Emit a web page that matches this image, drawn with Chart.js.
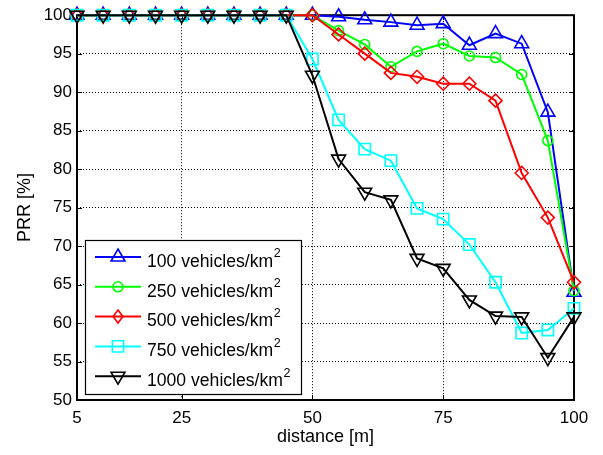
<!DOCTYPE html>
<html>
<head>
<meta charset="utf-8">
<script src="https://cdn.jsdelivr.net/npm/chart.js@4/dist/chart.umd.min.js"></script>
<style>
    html, body { margin: 0; padding: 0; background: #fff; }
    canvas { display: block; }
</style>
</head>
<body>
<canvas id="c" width="603" height="455"></canvas>
<script>
'use strict';

// distance [m]
var distances = [5, 10, 15, 20, 25, 30, 35, 40, 45, 50, 55, 60, 65, 70, 75, 80, 85, 90, 95, 100];
var xTickValues = [5, 25, 50, 75, 100];

// PRR [%] per vehicle density
var prr100 = [100, 100, 100, 100, 100, 100, 100, 100, 100, 100, 99.8, 99.4, 99.1, 98.7, 98.9, 96.1, 97.6, 96.3, 87.4, 64.0];
var prr250 = [100, 100, 100, 100, 100, 100, 100, 100, 100, 100, 98.0, 96.2, 93.3, 95.3, 96.3, 94.7, 94.5, 92.3, 83.7, 64.2];
var prr500 = [100, 100, 100, 100, 100, 100, 100, 100, 100, 100, 97.5, 95.0, 92.5, 92.0, 91.1, 91.1, 88.9, 79.5, 73.7, 65.3];
var prr750 = [100, 100, 100, 100, 100, 100, 100, 100, 100, 94.3, 86.4, 82.6, 81.1, 74.9, 73.5, 70.2, 65.3, 58.7, 59.1, 61.9];
var prr1000 = [100, 100, 100, 100, 100, 100, 100, 100, 100, 92.2, 81.3, 77.0, 76.0, 68.4, 67.1, 63.0, 60.9, 60.8, 55.5, 60.8];

var seriesLabels = ['100 vehicles/km', '250 vehicles/km', '500 vehicles/km', '750 vehicles/km', '1000 vehicles/km'];
var seriesData = [prr100, prr250, prr500, prr750, prr1000];
var seriesColors = ['#0000ff', '#00ff00', '#ff0000', '#00ffff', '#000000'];
var seriesMarkers = [
    { style: 'triangle', radius: 8, rotation: 0 },
    { style: 'circle', radius: 5, rotation: 0 },
    { style: 'rectRot', radius: 6.5, rotation: 0 },
    { style: 'rect', radius: 8, rotation: 0 },
    { style: 'triangle', radius: 8, rotation: 180 }
];

var FONT = "'Liberation Sans', Arial, sans-serif";

function drawMarker(ctx, m, x, y, color) {
    var r = m.radius;
    ctx.save();
    ctx.strokeStyle = color;
    ctx.lineWidth = 1.6;
    ctx.beginPath();
    if (m.style === 'circle') {
        ctx.arc(x, y, r, 0, Math.PI * 2);
    } else if (m.style === 'rectRot') {
        ctx.moveTo(x, y - r); ctx.lineTo(x + r * 0.75, y); ctx.lineTo(x, y + r); ctx.lineTo(x - r * 0.75, y);
        ctx.closePath();
    } else if (m.style === 'rect') {
        var s = r * Math.SQRT1_2;
        ctx.rect(x - s, y - s, 2 * s, 2 * s);
    } else {
        var dir = m.rotation === 180 ? -1 : 1;
        var h = r * 0.5;
        ctx.moveTo(x, y - dir * r);
        ctx.lineTo(x + r * 0.866, y + dir * h);
        ctx.lineTo(x - r * 0.866, y + dir * h);
        ctx.closePath();
    }
    ctx.stroke();
    ctx.restore();
}

var framePlugin = {
    id: 'frame',
    beforeDatasetsDraw: function (chart) {
        var ctx = chart.ctx, a = chart.chartArea;
        var xs = chart.scales.x, ys = chart.scales.y;
        ctx.save();
        ctx.strokeStyle = '#000';
        ctx.lineWidth = 1;
        ctx.beginPath();
        xTickValues.forEach(function (v) {
            var px = Math.round(xs.getPixelForValue(v)) + 0.5;
            ctx.moveTo(px, a.bottom); ctx.lineTo(px, a.bottom - 5);
            ctx.moveTo(px, a.top); ctx.lineTo(px, a.top + 5);
        });
        ys.ticks.forEach(function (t) {
            var py = Math.round(ys.getPixelForValue(t.value)) + 0.5;
            ctx.moveTo(a.left, py); ctx.lineTo(a.left + 5, py);
            ctx.moveTo(a.right, py); ctx.lineTo(a.right - 5, py);
        });
        ctx.stroke();
        ctx.lineWidth = 2;
        ctx.strokeRect(a.left, a.top, a.right - a.left, a.bottom - a.top);
        ctx.restore();
    }
};

var legendPlugin = {
    id: 'boxLegend',
    afterDatasetsDraw: function (chart) {
        var ctx = chart.ctx;
        var box = { x: 85, y: 240, w: 216, h: 154 };
        ctx.save();
        ctx.fillStyle = '#fff';
        ctx.fillRect(box.x, box.y, box.w, box.h);
        ctx.strokeStyle = '#000';
        ctx.lineWidth = 1.2;
        ctx.strokeRect(box.x + 0.5, box.y + 0.5, box.w, box.h);
        seriesLabels.forEach(function (label, i) {
            var ly = box.y + 17 + i * 29.8;
            ctx.strokeStyle = seriesColors[i];
            ctx.lineWidth = 2;
            ctx.beginPath();
            ctx.moveTo(95, ly); ctx.lineTo(141, ly);
            ctx.stroke();
            drawMarker(ctx, seriesMarkers[i], 118, ly, seriesColors[i]);
            ctx.fillStyle = '#000';
            ctx.textBaseline = 'middle';
            ctx.textAlign = 'left';
            ctx.font = '17.6px ' + FONT;
            ctx.fillText(label, 147, ly + 5);
            var w = ctx.measureText(label).width;
            ctx.font = '12.5px ' + FONT;
            ctx.fillText('2', 147 + w + 0.5, ly - 3);
        });
        ctx.restore();
    }
};

var datasets = seriesData.map(function (values, i) {
    return {
        label: seriesLabels[i],
        data: distances.map(function (d, j) { return { x: d, y: values[j] }; }),
        borderColor: seriesColors[i],
        backgroundColor: 'rgba(0,0,0,0)',
        borderWidth: 2,
        pointStyle: seriesMarkers[i].style,
        pointRadius: seriesMarkers[i].radius,
        pointRotation: seriesMarkers[i].rotation,
        pointBorderWidth: 1.6,
        pointBorderColor: seriesColors[i],
        pointBackgroundColor: 'rgba(0,0,0,0)',
        tension: 0,
        clip: false,
        order: 5 - i
    };
});

new Chart(document.getElementById('c'), {
    type: 'line',
    data: { datasets: datasets },
    plugins: [framePlugin, legendPlugin],
    options: {
        responsive: false,
        animation: false,
        devicePixelRatio: 1,
        layout: { padding: { left: 0, top: 14, right: 29, bottom: 0 } },
        plugins: { legend: { display: false }, tooltip: { enabled: false } },
        scales: {
            x: {
                type: 'linear',
                min: 5,
                max: 100,
                afterBuildTicks: function (scale) {
                    scale.ticks = xTickValues.map(function (v) { return { value: v }; });
                },
                afterFit: function (scale) { scale.height = 55; },
                ticks: {
                    autoSkip: false,
                    maxRotation: 0,
                    padding: 8,
                    color: '#000',
                    font: { family: FONT, size: 17 }
                },
                grid: { color: '#000', lineWidth: 1, drawTicks: false },
                border: { display: false, dash: [1, 2] },
                title: {
                    display: true,
                    text: 'distance [m]',
                    color: '#000',
                    font: { family: FONT, size: 18 },
                    padding: { top: 0, bottom: 7 }
                }
            },
            y: {
                min: 50,
                max: 100,
                afterFit: function (scale) { scale.width = 77; },
                ticks: {
                    stepSize: 5,
                    padding: 5,
                    color: '#000',
                    font: { family: FONT, size: 17 }
                },
                grid: { color: '#000', lineWidth: 1, drawTicks: false },
                border: { display: false, dash: [1, 2] },
                title: {
                    display: true,
                    text: 'PRR [%]',
                    color: '#000',
                    font: { family: FONT, size: 18 },
                    padding: { top: 14, bottom: 0 }
                }
            }
        }
    }
});
</script>
</body>
</html>
